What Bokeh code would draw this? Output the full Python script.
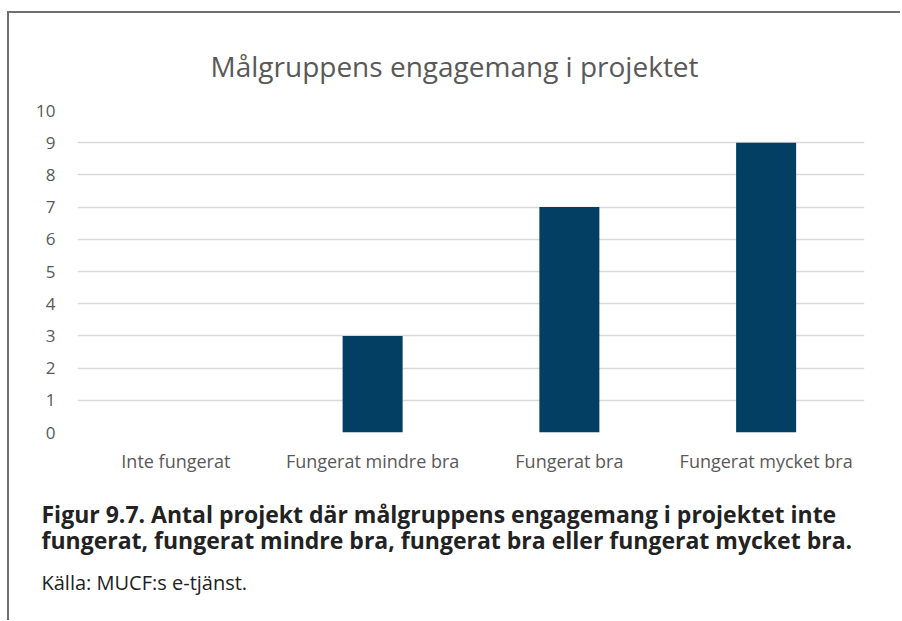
from bokeh.plotting import figure
from bokeh.models import Title, FactorRange, Range1d, ColumnDataSource, SingleIntervalTicker
from bokeh.embed import file_html
from bokeh.resources import INLINE

categories = ["Inte fungerat", "Fungerat mindre bra", "Fungerat bra", "Fungerat mycket bra"]
values = [0, 3, 7, 9]
title_text = "Målgruppens engagemang i projektet"
caption_1 = "Figur 9.7. Antal projekt där målgruppens engagemang i projektet inte"
caption_2 = "fungerat, fungerat mindre bra, fungerat bra eller fungerat mycket bra."
source_text = "Källa: MUCF:s e-tjänst."

FONT = "Open Sans"

p = figure(
    x_range=FactorRange(*categories),
    y_range=Range1d(0, 10),
    frame_width=787, frame_height=322,
    min_border_left=68, min_border_right=36,
    min_border_top=97, min_border_bottom=188,
    output_backend="svg", toolbar_location=None,
    title=title_text,
)
p.styles = {"border-top": "2px solid #707070", "border-left": "2px solid #707070",
            "margin-top": "11px", "margin-left": "7px"}

src = ColumnDataSource(dict(cat=categories, val=values))
p.vbar(x="cat", top="val", width=0.305, source=src, fill_color="#033f62", line_color=None)

p.title.align = "left"
p.title.text_font = FONT
p.title.text_font_size = "28px"
p.title.text_font_style = "normal"
p.title.text_color = "#595959"
p.title.offset = 133
p.title.standoff = 51

p.outline_line_color = None
p.background_fill_color = "white"
p.border_fill_color = "white"

p.xgrid.grid_line_color = None
p.ygrid.grid_line_color = "#d9d9d9"
p.ygrid.grid_line_width = 1.5

p.yaxis.ticker = SingleIntervalTicker(interval=1)
for ax in (p.xaxis, p.yaxis):
    ax.axis_line_color = None
    ax.major_tick_line_color = None
    ax.minor_tick_line_color = None
    ax.major_label_text_font = FONT
    ax.major_label_text_color = "#595959"
p.yaxis.major_label_text_font_size = "17px"
p.yaxis.major_label_standoff = 16
p.xaxis.major_label_text_font_size = "18px"
p.xaxis.major_label_standoff = 10

cap = Title(text=caption_1 + "\n" + caption_2, align="left", offset=-36, standoff=40,
            text_font=FONT, text_font_size="23px", text_font_style="bold",
            text_color="#222222", text_line_height=0.83)
p.add_layout(cap, "below")
src_title = Title(text=source_text, align="left", offset=-36, standoff=-20,
                  text_font=FONT, text_font_size="20px", text_font_style="normal",
                  text_color="#222222")
p.add_layout(src_title, "below")

open("out.html", "w").write(file_html(p, INLINE))
